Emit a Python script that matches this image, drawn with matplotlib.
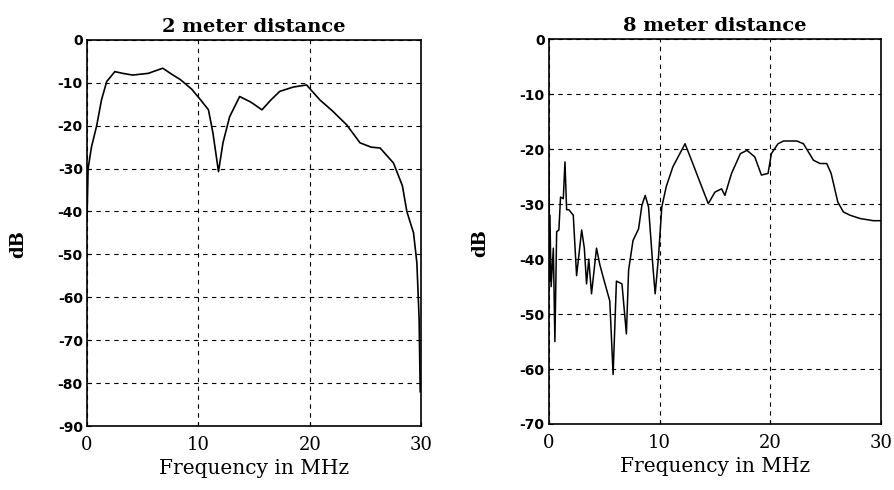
import matplotlib
matplotlib.use("Agg")
import matplotlib.pyplot as plt

# 2 meter distance: frequency (MHz) and level (dB)
f_2m = [0, 0.1, 0.4, 0.87, 1.3, 1.77, 2.5, 3.2, 4.1, 5.5, 6.8, 7.6, 8.4, 9.4,
        10.2, 10.9, 11.3, 11.8, 12.2, 12.8, 13.7, 14.7, 15.7, 16.5, 17.3, 18.5,
        19.7, 20.9, 22.0, 23.3, 24.5, 25.5, 26.3, 27.5, 28.3, 28.7, 29.3, 29.6,
        29.8, 29.9]
db_2m = [-42, -30, -25, -20, -14, -9.7, -7.4, -7.8, -8.2, -7.8, -6.6, -8, -9.3,
         -11.5, -14, -16.3, -21.7, -30.7, -24, -17.9, -13.2, -14.5, -16.3, -14,
         -12, -11, -10.5, -14, -16.5, -19.8, -24, -25, -25.2, -28.7, -34, -40,
         -45, -52, -65, -82]

# 8 meter distance
f_8m = [0, 0.05, 0.09, 0.2, 0.4, 0.54, 0.7, 0.9, 1.05, 1.3, 1.45, 1.6, 1.8,
        2.2, 2.5, 2.96, 3.2, 3.4, 3.6, 3.85, 4.3, 4.6, 5.0, 5.5, 5.8, 6.1, 6.6,
        7.0, 7.2, 7.6, 8.1, 8.4, 8.7, 9.0, 9.4, 9.6, 9.9, 10.2, 10.6, 11.2,
        12.3, 13.0, 13.8, 14.4, 15.0, 15.6, 15.9, 16.5, 17.3, 17.9, 18.6, 19.2,
        19.8, 20.1, 20.7, 21.2, 22.4, 23.0, 23.9, 24.5, 25.1, 25.5, 26.1, 26.6,
        27.2, 28.1, 29.3, 30.0]
db_8m = [-22, -44, -32, -45, -38, -55, -35, -34.7, -28.7, -29, -22.3, -31, -31,
         -32, -43, -34.7, -38, -44.5, -40, -46.3, -38, -41, -44, -47.6, -61,
         -44, -44.5, -53.6, -42, -36.6, -34.5, -30.2, -28.4, -30.5, -41.5,
         -46.3, -39.6, -30.5, -26.8, -23.2, -19.0, -22.6, -26.8, -29.9, -27.8,
         -27.2, -28.4, -24.4, -20.8, -20.2, -21.4, -24.7, -24.4, -20.8, -19.0,
         -18.5, -18.5, -19.0, -22.0, -22.6, -22.6, -24.4, -29.6, -31.4, -32.0,
         -32.6, -33.0, -33.0]

x_ticks = [0, 10, 20, 30]
y_ticks_2m = list(range(0, -100, -10))
y_ticks_8m = list(range(0, -80, -10))

serif = "DejaVu Serif"

fig = plt.figure(figsize=(8.94, 4.9), dpi=100)
ax1 = fig.add_axes([0.0973, 0.1306, 0.374, 0.788])
ax2 = fig.add_axes([0.614, 0.1347, 0.3714, 0.785])


def style(ax, yticks, title):
    ax.set_xlim(0, 30)
    ax.set_ylim(yticks[-1], 0)
    ax.set_xticks(x_ticks)
    ax.set_yticks(yticks)
    ax.set_xticklabels([str(t) for t in x_ticks], family=serif, fontsize=13)
    ax.set_yticklabels([str(t) for t in yticks], family="DejaVu Sans",
                       fontweight="bold", fontsize=10)
    ax.tick_params(direction="in", length=3, width=0.8)
    ax.tick_params(axis="x", pad=7)
    ax.tick_params(axis="y", pad=3)
    ax.grid(True, color="black", linestyle=(0, (4, 4)), linewidth=0.8)
    for s in ax.spines.values():
        s.set_linewidth(1.2)
    ax.set_title(title, family=serif, fontweight="bold", fontsize=14, pad=6)
    ax.set_xlabel("Frequency in MHz", family=serif, fontsize=14.5, labelpad=4)
    ax.set_ylabel("dB", family=serif, fontweight="bold", fontsize=13)
    ax.yaxis.set_label_coords(-0.18, 0.47)


ax1.plot(f_2m, db_2m, color="black", linewidth=1.2)
style(ax1, y_ticks_2m, "2 meter distance")

ax2.plot(f_8m, db_8m, color="black", linewidth=1.1)
style(ax2, y_ticks_8m, "8 meter distance")

fig.savefig("out.png", dpi=100)
